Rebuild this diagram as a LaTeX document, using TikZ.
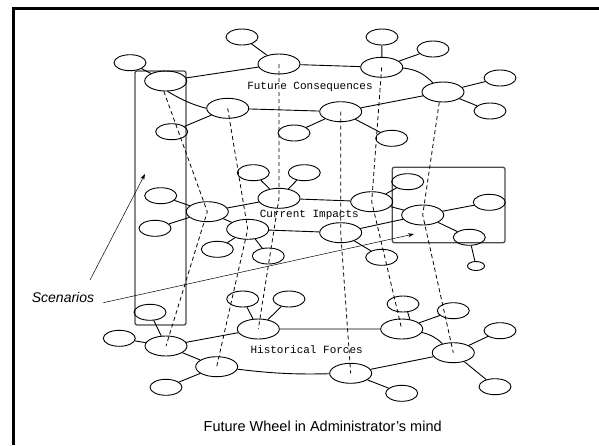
\documentclass[tikz,border=0pt]{standalone}
\usepackage{fontspec}
\setmainfont{Liberation Sans}
\newfontfamily\wheelmono{Liberation Mono}
\usetikzlibrary{arrows.meta,shapes.geometric}
\begin{document}
\begin{tikzpicture}[x=1pt,y=-1pt,
  ring/.style={draw, ellipse, minimum width=42pt, minimum height=20pt, inner sep=0pt, line width=0.9pt},
  leaf/.style={draw, ellipse, minimum width=32pt, minimum height=16pt, inner sep=0pt, line width=0.9pt},
  tinyleaf/.style={draw, ellipse, minimum width=17pt, minimum height=9pt, inner sep=0pt, line width=0.9pt},
  link/.style={line width=0.9pt},
  vdash/.style={line width=0.8pt, dash pattern=on 4pt off 3pt},
  scenbox/.style={draw=black!70, line width=1.3pt, rounded corners=2pt},
  lbl/.style={font=\wheelmono\fontsize{11}{12}\selectfont, inner sep=0pt},
  pointer/.style={line width=0.5pt, -{Stealth[length=6pt,width=4pt]}}
]
\useasboundingbox (0,0) rectangle (599,445);
% frame
\draw[line width=3pt] (599,8) -- (13.5,8) -- (13.5,445);

% scenario boxes
\draw[scenbox] (135,71) rectangle (186,325);
\draw[scenbox] (392.3,167.3) rectangle (505,242.7);

% ---- Future Consequences ring
\node[ring] (L) at (165.7,81) {};
\node[ring] (T1) at (279,64) {};
\node[ring] (T2) at (381.7,67.3) {};
\node[ring] (R) at (443,92) {};
\node[ring] (B2) at (340.7,111.7) {};
\node[ring] (B1) at (227.7,108.3) {};
\node[leaf] (s1) at (130,62.7) {};
\node[leaf] (s2) at (242,37) {};
\node[leaf] (s3) at (382,37) {};
\node[leaf] (s4) at (433,49) {};
\node[leaf] (s5) at (500,78) {};
\node[leaf] (s6) at (490,111) {};
\node[leaf] (s7) at (171.7,131.7) {};
\node[leaf] (s8) at (294,133) {};
\node[leaf] (s9) at (391.7,138.3) {};
\node[lbl] (futlbl) at (310,87.3) {Future Consequences};

% ---- Current Impacts ring
\node[ring] (CL) at (207.3,211.7) {};
\node[ring] (CT1) at (279,198.3) {};
\node[ring] (CT2) at (371.7,201.7) {};
\node[ring] (CR) at (422.7,215) {};
\node[ring] (CB2) at (340.7,232.7) {};
\node[ring] (CB1) at (247.7,229.3) {};
\node[leaf] (c1) at (160.7,195.7) {};
\node[leaf] (c2) at (155,228.3) {};
\node[leaf] (c3) at (253.3,172.7) {};
\node[leaf] (c4) at (304.3,172.7) {};
\node[leaf] (c5) at (407.7,181.7) {};
\node[leaf] (c6) at (489.3,202.3) {};
\node[leaf] (c7) at (469.3,237.3) {};
\node[tinyleaf] (ct) at (476,266) {};
\node[leaf] (c8) at (381.7,257.3) {};
\node[leaf] (c9) at (217.3,249.3) {};
\node[leaf] (c10) at (268.3,256) {};
\node[lbl] (curlbl) at (309.3,215) {Current Impacts};

% ---- Historical Forces ring
\node[ring] (HL) at (166,346) {};
\node[ring] (HT1) at (258.3,329) {};
\node[ring] (HT2) at (401.7,329) {};
\node[ring] (HR) at (453.3,352.7) {};
\node[ring] (HB2) at (350.7,373.3) {};
\node[ring] (HB1) at (216.7,366.7) {};
\node[leaf] (h1) at (150,312.3) {};
\node[leaf] (h2) at (119.3,338.3) {};
\node[leaf] (h3) at (242.7,299) {};
\node[leaf] (h4) at (289,299) {};
\node[leaf] (h5) at (403,304) {};
\node[leaf] (h6) at (453.3,310.7) {};
\node[leaf] (h7) at (500,330.7) {};
\node[leaf] (h8) at (495,386.7) {};
\node[leaf] (h9) at (401.7,393.3) {};
\node[leaf] (h10) at (166,387.3) {};
\node[lbl] (hislbl) at (306.7,350) {Historical Forces};

% ring links
\draw[link] (L) -- (T1) -- (T2);
\draw[link] (T2) to[bend left=20] (R);
\draw[link] (R) -- (B2) -- (B1);
\draw[link] (B1.west) to[out=165,in=-30] (L.-80);
\draw[link] (CL) -- (CT1) -- (CT2) -- (CR) -- (CB2) -- (CB1) -- (CL);
\draw[link] (HL) -- (HT1) -- (HT2);
\draw[link] (HT2) to[bend left=15] (HR);
\draw[link] (HR) -- (HB2);
\draw[link] (HB2) to[bend left=4] (HB1);
\draw[link] (HB1) -- (HL);

% spokes
\draw[link] (s1) -- (L);
\draw[link] (s2) -- (T1);
\draw[link] (s3) -- (T2);
\draw[link] (s4) -- (T2);
\draw[link] (s5) -- (R);
\draw[link] (s6) -- (R);
\draw[link] (s7) -- (B1);
\draw[link] (s8) -- (B2);
\draw[link] (s9) -- (B2);
\draw[link] (c1) -- (CL);
\draw[link] (c2) -- (CL);
\draw[link] (c3) -- (CT1);
\draw[link] (c4) -- (CT1);
\draw[link] (c5) -- (CT2);
\draw[link] (c6) -- (CR);
\draw[link] (c7) -- (CR);
\draw[link] (c7) -- (ct);
\draw[link] (c8) -- (CB2);
\draw[link] (c9) -- (CB1);
\draw[link] (c10) -- (CB1);
\draw[link] (h1) -- (HL);
\draw[link] (h2) -- (HL);
\draw[link] (h3) -- (HT1);
\draw[link] (h4) -- (HT1);
\draw[link] (h5.-60) -- (HT2.50);
\draw[link] (h6) -- (HT2);
\draw[link] (h7) -- (HR);
\draw[link] (h8) -- (HR);
\draw[link] (h9) -- (HB2);
\draw[link] (h10) -- (HB1);

% dashed verticals
\draw[vdash] (L.260) -- (CL.center) -- (HL.center);
\draw[vdash] (B1.center) -- (CB1.center) -- (HB1.center);
\draw[vdash] (T1.center) -- (CT1.center) -- (HT1.center);
\draw[vdash] (B2.center) -- (CB2.center) -- (HB2.center);
\draw[vdash] (T2.center) -- (CT2.center) -- (HT2.center);
\draw[vdash] (R.250) -- (CR.center) -- (HR.center);

% scenarios
\node[font=\itshape\fontsize{14}{16}\selectfont, inner sep=0pt] (scen) at (63,297) {Scenarios};
\coordinate (p1s) at (90,280);
\coordinate (p1e) at (145,174);
\coordinate (p2s) at (103.3,302.7);
\coordinate (p2e) at (414,234);
\draw[pointer] (p1s) -- (p1e);
\draw[pointer] (p2s) -- (p2e);

% caption
\node[font=\fontsize{14.5}{17}\selectfont, inner sep=0pt] (cap) at (322.7,426.7) {Future Wheel in Administrator’s mind};
\end{tikzpicture}
\end{document}
